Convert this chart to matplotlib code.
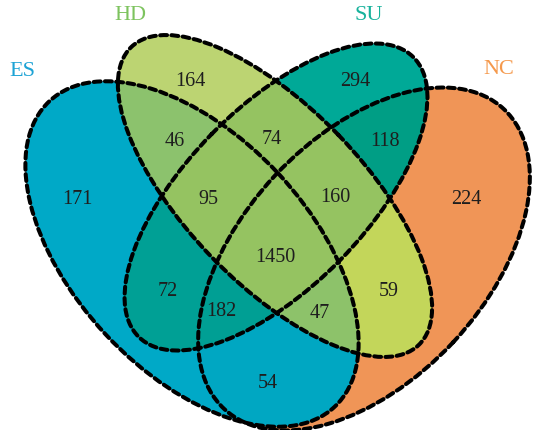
import numpy as np
import matplotlib
matplotlib.use("Agg")
import matplotlib.pyplot as plt
from matplotlib.patches import Ellipse
from matplotlib.colors import to_rgba

# the four sets and the size of every region of the diagram
sets = ["ES", "HD", "SU", "NC"]
set_colors = ["#1DA3D5", "#7DC35E", "#17B29C", "#F5994C"]

# membership code of each region: (ES, HD, SU, NC)
regions = ["1000", "0100", "0010", "0001", "1100", "0110", "0011", "0101",
           "1010", "1001", "1110", "0111", "1111", "1101", "1011"]
counts = [171, 164, 294, 224, 46, 74, 118, 59, 72, 54, 95, 160, 1450, 47, 182]

# layout (pixel coordinates, y down)
shapes = {
    "ES": ((192, 254), 418, 236, 47),
    "HD": ((275, 196), 414, 176, 46),
    "SU": ((276, 197), 392, 180, -45.6),
    "NC": ((364, 259), 410, 244, 133),
}
name_pos = {"ES": (22, 72), "HD": (130, 16), "SU": (369, 16), "NC": (499, 70)}
label_pos = {
    "1000": (77, 200), "0100": (190, 82), "0010": (355, 82), "0001": (466, 200),
    "1100": (175, 141), "0110": (272, 140), "0011": (385, 141), "0101": (389, 291),
    "1010": (168, 291), "1001": (268, 383), "1110": (208, 199), "0111": (335, 198),
    "1111": (275, 257), "1101": (320, 313), "1011": (221, 312),
}
region_colors = {
    "1000": "#00A9C8", "0100": "#BCD472", "0010": "#00A997", "0001": "#F19557",
    "1100": "#8CC36E", "0110": "#95C461", "0011": "#009E86", "0101": "#C4D75A",
    "1010": "#00A096", "1001": "#00A8C2", "1110": "#95C461", "0111": "#95C461",
    "1111": "#95C461", "1101": "#8DC26B", "1011": "#009F94",
}

W, H = 533, 430


def inside(px, py, shape):
    (cx, cy), w, h, ang = shape
    t = np.deg2rad(ang)
    dx, dy = px - cx, py - cy
    u = dx * np.cos(t) + dy * np.sin(t)
    v = -dx * np.sin(t) + dy * np.cos(t)
    return (u / (w / 2)) ** 2 + (v / (h / 2)) ** 2 <= 1


fig = plt.figure(figsize=(W / 100, H / 100), dpi=100)
ax = fig.add_axes([0, 0, 1, 1])
ax.set_xlim(0, W)
ax.set_ylim(H, 0)
ax.axis("off")

# fill every region with its own colour
step = 0.25
xs = np.arange(0, W, step) + step / 2
ys = np.arange(0, H, step) + step / 2
gx, gy = np.meshgrid(xs, ys)
member = [inside(gx, gy, shapes[s]) for s in sets]
img = np.zeros(gx.shape + (4,))
for code in regions:
    mask = np.ones(gx.shape, dtype=bool)
    for m, c in zip(member, code):
        mask &= m if c == "1" else ~m
    img[mask] = to_rgba(region_colors[code])
ax.imshow(img, extent=(0, W, H, 0), origin="upper", interpolation="antialiased", zorder=1)

# dashed outlines
for s in sets:
    centre, w, h, ang = shapes[s]
    ax.add_patch(Ellipse(centre, w, h, angle=ang, fill=False, edgecolor="black",
                         lw=2.9, linestyle=(0, (1.7, 1.1)), capstyle="round", zorder=2))

font = ["Liberation Serif", "DejaVu Serif"]
for code, n in zip(regions, counts):
    x, y = label_pos[code]
    ax.text(x, y, str(n), ha="center", va="center", fontsize=14.5,
            family=font, color="#1E1E1E", zorder=3)

for s, col in zip(sets, set_colors):
    x, y = name_pos[s]
    ax.text(x, y, s, ha="center", va="center", fontsize=16, family=font,
            color=col, zorder=3)

fig.savefig("out.png", dpi=100)
